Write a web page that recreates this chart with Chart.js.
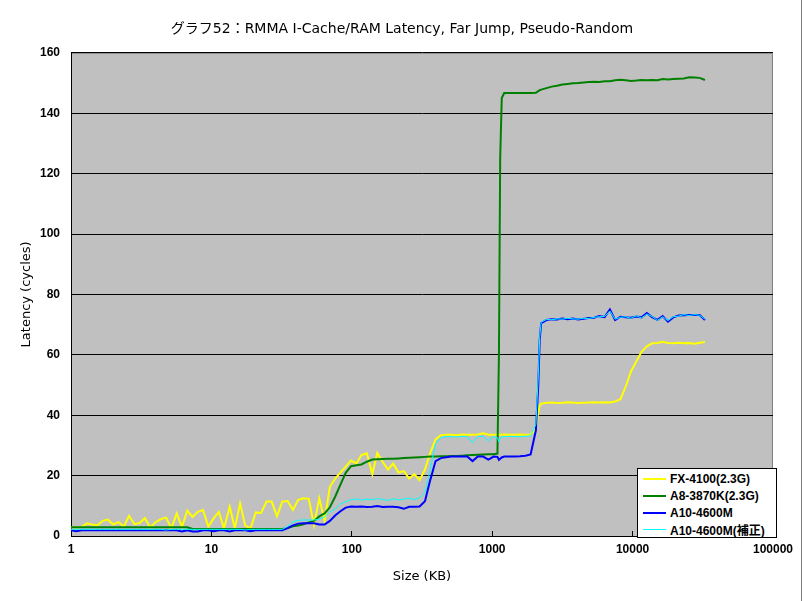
<!DOCTYPE html>
<html>
<head>
<meta charset="utf-8">
<script src="https://cdn.jsdelivr.net/npm/chart.js@4"></script>
<style>
  body { margin: 0; background: #fff; }
  #wrap { position: relative; width: 804px; height: 601px; }
  #edge { position: absolute; left: 801px; top: 0; width: 1px; height: 601px; background: #808080; }
  #legend {
    position: absolute; left: 637px; top: 468px; width: 138px; height: 67px;
    background: #fff; border: 1px solid #000; padding-top: 1px;
    font: bold 12px "Liberation Sans", "Noto Sans CJK JP", sans-serif; color: #000;
  }
  #legend .row { height: 17px; display: flex; align-items: center; }
  #legend .sw { width: 23px; margin: 0 4px 0 5px; }
</style>
</head>
<body>
<div id="wrap">
  <canvas id="grafico" width="804" height="601"></canvas>
  <div id="legend"></div>
  <div id="edge"></div>
</div>
<script>
// ---- Datos ----
const titulo = "グラフ52：RMMA I-Cache/RAM Latency, Far Jump, Pseudo-Random";
const xTicks = [1, 10, 100, 1000, 10000, 100000];

const sizes = [
  1, 1.09, 1.19, 1.3, 1.41, 1.54, 1.68, 1.83,
  2, 2.18, 2.38, 2.59, 2.83, 3.08, 3.36, 3.67,
  4, 4.36, 4.76, 5.19, 5.66, 6.17, 6.73, 7.34,
  8, 8.72, 9.51, 10.4, 11.3, 12.3, 13.5, 14.7,
  16, 17.4, 19, 20.7, 22.6, 24.7, 26.9, 29.3,
  32, 34.9, 38.1, 41.5, 45.3, 49.4, 53.8, 58.7,
  64, 69.8, 76.1, 83, 90.5, 98.7, 108, 117,
  128, 140, 152, 166, 181, 197, 215, 235,
  256, 279, 304, 332, 362, 395, 431, 470,
  512, 558, 609, 664, 724, 790, 861, 939,
  1024, 1090, 1117, 1140, 1170, 1218, 1328, 1448, 1579, 1722, 1878,
  2048, 2130, 2180, 2233, 2436, 2656, 2896, 3158, 3444, 3756,
  4096, 4467, 4871, 5312, 5793, 6317, 6889, 7512,
  8192, 8933, 9742, 10624, 11585, 12634, 13777, 15024,
  16384, 17867, 19484, 21247, 23170, 25268, 27554, 30048,
  32768
];

const fx4100 = [
  2.9, 2.9, 3.0, 4.2, 3.8, 3.5, 5.0, 5.4,
  3.8, 4.6, 3.1, 6.7, 3.9, 4.3, 5.9, 2.8,
  4.5, 5.6, 6.1, 2.5, 7.5, 3.0, 8.4, 6.3,
  8.0, 8.6, 3.1, 5.9, 8.0, 2.5, 9.7, 2.5,
  10.8, 3.5, 2.5, 7.8, 7.6, 11.4, 11.4, 6.5,
  11.4, 11.6, 8.6, 12.0, 12.5, 12.3, 3.6, 12.5,
  5.0, 16.3, 19.0, 21.0, 23.0, 25.0, 24.0, 26.8,
  27.4, 20.5, 27.5, 24.5, 22.0, 24.0, 21.0, 21.5,
  19.0, 20.5, 18.5, 22.0, 27.5, 32.0, 33.4, 33.5,
  33.5, 33.4, 33.6, 33.5, 33.5, 33.6, 34.0, 33.5,
  33.5, 33.5, 33.6, 33.5, 33.5, 33.6, 33.5, 33.5, 33.6, 33.5, 33.6,
  35.5, 41.0, 43.3, 43.8, 44.1, 44.2, 44.0, 44.1, 44.3, 44.2,
  44.0, 44.1, 44.2, 44.3, 44.2, 44.3, 44.2, 44.5,
  45.3, 49.5, 54.5, 57.8, 61.0, 62.8, 63.8, 63.9,
  64.3, 63.9, 63.8, 64.0, 63.8, 63.9, 63.7, 64.0,
  64.2
];

const a8_3870k = [
  2.9, 2.9, 2.9, 2.9, 2.9, 2.9, 2.9, 2.9,
  2.9, 2.9, 2.9, 2.9, 2.9, 2.9, 2.9, 2.9,
  2.9, 2.9, 2.9, 2.9, 2.9, 2.9, 2.9, 2.3,
  2.3, 2.3, 2.3, 2.3, 2.3, 2.3, 2.3, 2.3,
  2.3, 2.3, 2.3, 2.3, 2.3, 2.3, 2.3, 2.3,
  2.3, 2.6, 3.2, 3.5, 3.9, 4.5, 5.0, 6.5,
  7.5, 9.5, 13.0, 17.0, 20.9, 23.1, 23.4, 23.7,
  24.6, 25.3, 25.4, 25.5, 25.6, 25.6, 25.7, 25.8,
  25.9, 26.0, 26.1, 26.2, 26.3, 26.3, 26.4, 26.4,
  26.5, 26.5, 26.6, 26.7, 26.8, 26.9, 27.0, 27.1,
  27.1, 27.3, 60, 125, 145, 146.7, 146.7, 146.7, 146.7, 146.7, 146.7,
  146.8, 147.3, 147.6, 147.8, 148.3, 148.8, 149.1, 149.5, 149.7, 149.9,
  150.0, 150.2, 150.3, 150.4, 150.3, 150.6, 150.6, 150.9,
  151.1, 150.9, 150.7, 150.8, 151.0, 150.9, 151.0, 150.9,
  151.3, 151.2, 151.3, 151.4, 151.5, 151.9, 151.8, 151.7,
  151.0
];

const a10_4600m = [
  1.9, 1.6, 1.9, 1.9, 1.9, 1.9, 1.9, 1.9,
  1.9, 1.9, 1.9, 1.9, 1.9, 1.9, 1.9, 1.9,
  1.9, 1.9, 1.9, 1.9, 1.9, 1.5, 1.9, 1.5,
  1.5, 1.9, 1.9, 1.6, 1.9, 1.9, 1.5, 1.9,
  1.9, 1.9, 1.6, 1.9, 1.9, 1.9, 1.9, 1.9,
  1.9, 2.6, 3.5, 4.1, 4.2, 4.2, 4.2, 3.8,
  3.8, 5.0, 6.8, 8.2, 9.4, 9.8, 9.7, 9.8,
  9.6, 9.7, 9.9, 9.6, 9.7, 9.7, 9.5, 9.0,
  9.7, 9.7, 9.8, 11.5, 18.5, 24.8, 25.8, 26.1,
  26.3, 26.3, 26.3, 26.3, 24.8, 26.3, 26.3, 25.3,
  26.3, 26.2, 25.2, 25.6, 26.0, 26.3, 26.3, 26.3, 26.4, 26.6, 27.0,
  35.0, 50.0, 65.0, 70.5, 71.5, 71.8, 71.7, 72.0, 71.8, 72.0,
  71.7, 71.9, 72.2, 72.3, 72.8, 72.5, 75.0, 71.5,
  72.6, 72.4, 72.3, 72.7, 72.4, 73.8, 72.5, 71.6,
  72.8, 71.0, 72.4, 73.0, 73.1, 73.2, 73.2, 73.2,
  71.5
];

const a10_4600m_adj = [
  2.2, 2.2, 2.2, 2.2, 2.2, 2.2, 2.2, 2.2,
  2.2, 2.2, 2.2, 2.2, 2.2, 2.2, 2.2, 2.2,
  2.2, 2.2, 2.0, 2.2, 2.2, 2.2, 2.2, 2.2,
  2.2, 2.2, 2.2, 2.2, 2.2, 2.2, 2.2, 2.2,
  2.2, 2.0, 2.2, 2.2, 2.2, 2.2, 2.2, 2.2,
  2.2, 3.2, 4.6, 5.2, 5.3, 5.3, 5.3, 5.6,
  6.3, 8.0, 9.0, 10.6, 11.4, 12.0, 12.3, 11.9,
  12.2, 12.0, 12.4, 12.1, 11.8, 12.3, 12.0, 12.2,
  12.5, 12.1, 12.6, 14.5, 22.0, 30.5, 32.6, 32.9,
  32.9, 32.8, 33.0, 32.9, 30.9, 32.9, 33.0, 31.5,
  32.9, 32.6, 31.2, 32.4, 32.8, 32.9, 33.0, 32.9, 32.9, 33.0, 33.2,
  37.0, 53.0, 66.0, 70.8, 71.7, 71.6, 71.9, 71.8, 72.1, 71.9,
  71.8, 72.1, 72.0, 72.4, 72.6, 72.7, 74.5, 71.8,
  72.4, 72.6, 72.1, 72.9, 72.2, 73.5, 72.7, 71.4,
  72.6, 71.3, 72.6, 72.8, 73.3, 73.0, 73.3, 73.1,
  71.8
];

const seriesNames = ["FX-4100(2.3G)", "A8-3870K(2.3G)", "A10-4600M", "A10-4600M(補正)"];
const seriesValues = [fx4100, a8_3870k, a10_4600m, a10_4600m_adj];
const seriesColors = ["#ffff00", "#008000", "#0000ff", "#00ffff"];
const seriesWidths = [2, 2, 2, 1];

// ---- Leyenda (HTML) ----
const legend = document.getElementById("legend");
seriesNames.forEach((name, k) => {
  const row = document.createElement("div");
  row.className = "row";
  row.innerHTML = `<span class="sw" style="border-top:${seriesWidths[k]}px solid ${seriesColors[k]}"></span><span>${name}</span>`;
  legend.appendChild(row);
});

// Fondo gris del área del gráfico + borde
const plotBg = {
  id: "plotBg",
  beforeDraw(chart) {
    const { ctx, chartArea: a } = chart;
    ctx.save();
    ctx.fillStyle = "#c0c0c0";
    ctx.fillRect(a.left, a.top, a.right - a.left, a.bottom - a.top);
    ctx.strokeStyle = "#808080";
    ctx.lineWidth = 1;
    ctx.beginPath();
    ctx.moveTo(a.left, a.top + 0.5);
    ctx.lineTo(a.right - 0.5, a.top + 0.5);
    ctx.lineTo(a.right - 0.5, a.bottom);
    ctx.stroke();
    ctx.restore();
  }
};

const tickFont = { family: "'Liberation Sans', sans-serif", size: 12, weight: "bold" };
const titleFont = { family: "'DejaVu Sans', 'Noto Sans CJK JP', sans-serif", size: 13, weight: "normal" };

new Chart(document.getElementById("grafico").getContext("2d"), {
  type: "line",
  data: {
    datasets: seriesNames.map((name, k) => ({
      label: name,
      data: sizes.map((s, i) => ({ x: s, y: seriesValues[k][i] })),
      borderColor: seriesColors[k],
      borderWidth: seriesWidths[k],
      pointRadius: 0,
      tension: 0,
      fill: false,
      order: seriesNames.length - k
    }))
  },
  options: {
    responsive: false,
    animation: false,
    devicePixelRatio: 1,
    layout: { padding: 0 },
    plugins: {
      legend: { display: false },
      tooltip: { enabled: false },
      title: {
        display: true,
        text: titulo,
        color: "#000",
        font: { family: "'DejaVu Sans', 'Noto Sans CJK JP', sans-serif", size: 14, weight: "normal" },
        padding: { top: 21, bottom: 15 }
      }
    },
    scales: {
      x: {
        type: "logarithmic",
        min: 1,
        max: 100000,
        afterBuildTicks: (s) => { s.ticks = xTicks.map(v => ({ value: v })); },
        afterFit: (s) => { s.height = 65; },
        ticks: { callback: (v) => String(v), autoSkip: false, maxRotation: 0, padding: 11, color: "#000", font: tickFont },
        grid: { drawOnChartArea: false, drawTicks: true, tickLength: -5, color: "#000" },
        border: { color: "#000", width: 1 },
        title: { display: true, text: "Size (KB)", color: "#000", font: titleFont, padding: { top: 0, bottom: 17 } }
      },
      y: {
        min: 0,
        max: 160,
        afterFit: (s) => { s.width = 71; },
        ticks: { stepSize: 20, padding: 11, color: "#000", font: tickFont },
        grid: { color: "#000", drawTicks: false },
        border: { color: "#000", width: 1 },
        title: { display: true, text: "Latency (cycles)", color: "#000", font: titleFont, padding: { top: 19, bottom: 0 } }
      },
      derecha: {
        position: "right",
        afterFit: (s) => { s.width = 27; },
        ticks: { display: false },
        grid: { display: false },
        border: { display: false }
      }
    }
  },
  plugins: [plotBg]
});
</script>
</body>
</html>
